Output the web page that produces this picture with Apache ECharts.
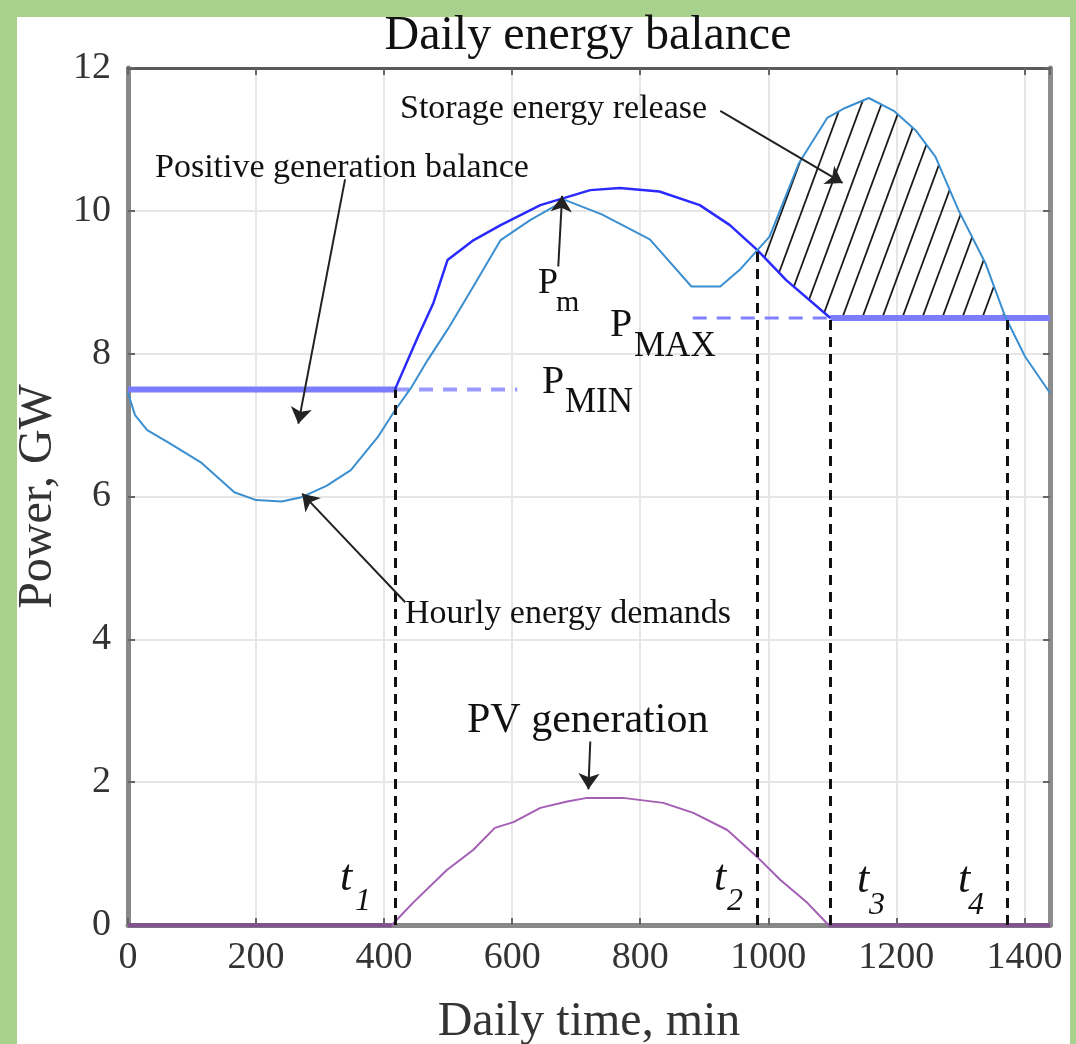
<!DOCTYPE html>
<html><head><meta charset="utf-8">
<script src="https://cdn.jsdelivr.net/npm/echarts@6/dist/echarts.min.js"></script>
<style>
html,body{margin:0;padding:0;width:1076px;height:1044px;background:#a9d18e;overflow:hidden}
#panel{position:absolute;left:17px;top:17px;width:1053px;height:1027px;background:#fff}
#chart{position:absolute;left:0;top:0;width:1076px;height:1044px}
</style></head><body><div id="panel"></div><div id="chart"></div>
<script>
// ---- data ----
const demandTime  = [0, 11, 30, 64, 115, 166, 200, 240, 271, 310, 348, 390, 415, 442, 468, 500, 540, 582, 628, 683, 740, 815, 880, 925, 955, 983, 1002, 1048, 1092, 1120, 1157, 1196, 1230, 1261, 1297, 1339, 1370, 1401, 1440];
const demandPower = [7.45, 7.14, 6.93, 6.75, 6.47, 6.06, 5.95, 5.93, 5.99, 6.15, 6.37, 6.83, 7.18, 7.52, 7.91, 8.35, 8.95, 9.59, 9.87, 10.15, 9.95, 9.6, 8.94, 8.94, 9.17, 9.45, 9.64, 10.67, 11.3, 11.44, 11.58, 11.4, 11.13, 10.76, 10.01, 9.27, 8.52, 7.96, 7.45];
const generationTime  = [417, 453, 477, 499, 540, 582, 644, 722, 768, 830, 893, 940, 983, 1028, 1097];
const generationPower = [7.5, 8.24, 8.71, 9.31, 9.59, 9.8, 10.08, 10.29, 10.32, 10.27, 10.08, 9.8, 9.45, 9.03, 8.5];
const pvTime  = [0, 412, 445, 498, 539, 573, 602, 644, 686, 717, 773, 836, 883, 936, 983, 1019, 1061, 1094, 1440];
const pvPower = [0, 0, 0.31, 0.77, 1.05, 1.36, 1.44, 1.64, 1.73, 1.78, 1.78, 1.71, 1.57, 1.33, 0.95, 0.63, 0.31, 0, 0];
const pMinLevel = 7.5;
const pMaxLevel = 8.5;
const pMinSolidEnd = 417, pMinDashEnd = 608;
const pMaxDashStart = 882, pMaxSolidStart = 1097;
const markTimes = [417, 983, 1097, 1373];
const markTops  = [7.5, 9.45, 8.5, 8.5];
const markNames = ['1', '2', '3', '4'];
const hatchStart = 983, hatchEnd = 1373;
// annotation arrows: [fromTime, fromPower, toTime, toPower]
const arrowStorage  = [925, 11.40, 1116, 10.39];
const arrowPositive = [339, 10.44, 266, 7.02];
const arrowHourly   = [433, 4.52, 272, 6.04];
const arrowPm       = [672, 9.22, 678, 10.21];
const arrowPV       = [722, 2.57, 719, 1.90];
const xMin = 0, xMax = 1440, xStep = 200;
const yMin = 0, yMax = 12, yStep = 2;

// ---- helpers ----
const pairs = (xs, ys) => xs.map((x, i) => [x, ys[i]]);
function interp(xs, ys, x) {
  for (let i = 0; i < xs.length - 1; i++) {
    if (x >= xs[i] && x <= xs[i + 1]) {
      const t = (x - xs[i]) / (xs[i + 1] - xs[i]);
      return ys[i] + t * (ys[i + 1] - ys[i]);
    }
  }
  return ys[ys.length - 1];
}
const lowerBound = x => x <= pMaxSolidStart ? Math.max(interp(generationTime, generationPower, x), pMaxLevel) : pMaxLevel;

// hatch pattern tile
const tile = document.createElement('canvas');
tile.width = 20; tile.height = 54;
const tc = tile.getContext('2d');
tc.strokeStyle = '#1a1a1a'; tc.lineWidth = 1.8;
for (const off of [-20, 0, 20]) { tc.beginPath(); tc.moveTo(off, 54); tc.lineTo(off + 20, 0); tc.stroke(); }

const SERIF = "'Liberation Serif','DejaVu Serif',serif";
const chart = echarts.init(document.getElementById('chart'), null, {renderer: 'canvas'});

const arrowList = [arrowStorage, arrowPositive, arrowHourly, arrowPm, arrowPV];

function txt(x, y, text, size, opts) {
  opts = opts || {};
  return {type: 'text', z: 100, style: Object.assign({x: x, y: y, text: text, font: (opts.italic ? 'italic ' : '') + size + 'px ' + SERIF, fill: opts.fill || '#111', textAlign: opts.align || 'left', textVerticalAlign: 'middle'})};
}

const option = {
  animation: false,
  backgroundColor: 'transparent',
  grid: {left: 128, right: 26, top: 68, bottom: 119, show: false, containLabel: false, outerBoundsMode: 'none'},
  xAxis: [{
    type: 'value', min: xMin, max: xMax, interval: xStep, position: 'bottom',
    axisLine: {show: true, onZero: false, lineStyle: {color: '#888', width: 5}},
    axisTick: {show: true, inside: true, length: 7, lineStyle: {color: '#666', width: 2}},
    axisLabel: {fontFamily: SERIF, fontSize: 38, color: '#333', margin: 14, showMaxLabel: false,
      formatter: v => (v % xStep === 0 ? String(v) : '')},
    splitLine: {show: true, lineStyle: {color: '#e6e6e6', width: 2}},
    name: 'Daily time, min', nameLocation: 'middle', nameGap: 73,
    nameTextStyle: {fontFamily: SERIF, fontSize: 48, color: '#333'}
  }, {
    type: 'value', min: xMin, max: xMax, interval: xStep, position: 'top',
    axisLine: {show: true, onZero: false, lineStyle: {color: '#5a5a5a', width: 3}},
    axisTick: {show: true, inside: true, length: 7, lineStyle: {color: '#666', width: 2}},
    axisLabel: {show: false}, splitLine: {show: false}
  }],
  yAxis: [{
    type: 'value', min: yMin, max: yMax, interval: yStep, position: 'left',
    axisLine: {show: true, onZero: false, lineStyle: {color: '#888', width: 5}},
    axisTick: {show: true, inside: true, length: 7, lineStyle: {color: '#666', width: 2}},
    axisLabel: {fontFamily: SERIF, fontSize: 38, color: '#333', margin: 17, padding: [0, 0, 18, 0]},
    splitLine: {show: true, lineStyle: {color: '#e6e6e6', width: 2}},
    name: 'Power, GW', nameLocation: 'middle', nameGap: 44,
    nameTextStyle: {fontFamily: SERIF, fontSize: 48, color: '#333'}
  }, {
    type: 'value', min: yMin, max: yMax, interval: yStep, position: 'right',
    axisLine: {show: true, onZero: false, lineStyle: {color: '#8c8c8c', width: 5}},
    axisTick: {show: true, inside: true, length: 7, lineStyle: {color: '#666', width: 2}},
    axisLabel: {show: false}, splitLine: {show: false}
  }],
  series: [
    { // hatched storage energy release region
      type: 'custom', name: 'hatch', z: 2, silent: true,
      data: [[hatchStart, hatchEnd]],
      renderItem: function (params, api) {
        const xs = [hatchStart];
        demandTime.forEach(t => { if (t > hatchStart && t < hatchEnd) xs.push(t); });
        generationTime.forEach(t => { if (t > hatchStart && t < hatchEnd && xs.indexOf(t) < 0) xs.push(t); });
        xs.push(hatchEnd);
        xs.sort((a, b) => a - b);
        const upper = xs.map(x => api.coord([x, interp(demandTime, demandPower, x)]));
        const lower = xs.slice().reverse().map(x => api.coord([x, lowerBound(x)]));
        return {type: 'polygon', shape: {points: upper.concat(lower)},
          style: {fill: {image: tile, repeat: 'repeat'}, stroke: null}};
      }
    },
    { // P_MIN solid thick
      type: 'line', z: 3, symbol: 'none', silent: true,
      data: [[xMin, pMinLevel], [pMinSolidEnd, pMinLevel]],
      lineStyle: {color: '#7c7cff', width: 6}
    },
    { // P_MIN dashed extension
      type: 'line', z: 3, symbol: 'none', silent: true,
      data: [[pMinSolidEnd, pMinLevel], [pMinDashEnd, pMinLevel]],
      lineStyle: {color: '#9a9aff', width: 4, type: [14, 10]}
    },
    { // P_MAX dashed extension
      type: 'line', z: 3, symbol: 'none', silent: true,
      data: [[pMaxDashStart, pMaxLevel], [pMaxSolidStart, pMaxLevel]],
      lineStyle: {color: '#8080ff', width: 3, type: [14, 10]}
    },
    { // P_MAX solid thick
      type: 'line', z: 3, symbol: 'none', silent: true,
      data: [[pMaxSolidStart, pMaxLevel], [xMax, pMaxLevel]],
      lineStyle: {color: '#7c7cff', width: 6}
    },
    { // generation curve
      type: 'line', name: 'Generation', z: 4, symbol: 'none', silent: true,
      data: pairs(generationTime, generationPower),
      lineStyle: {color: '#2a2aff', width: 2.5}
    },
    { // hourly demand
      type: 'line', name: 'Hourly energy demands', z: 5, symbol: 'none', silent: true,
      data: pairs(demandTime, demandPower),
      lineStyle: {color: '#3b8fd0', width: 2}
    },
    { // PV generation
      type: 'line', name: 'PV generation', z: 5, symbol: 'none', silent: true,
      data: pairs(pvTime, pvPower),
      lineStyle: {color: '#a45eb3', width: 2}
    },
    { // thick zero segments of PV
      type: 'lines', coordinateSystem: 'cartesian2d', z: 6, silent: true,
      data: [{coords: [[pvTime[0], 0], [pvTime[1], 0]]}, {coords: [[pvTime[pvTime.length - 2], 0], [pvTime[pvTime.length - 1], 0]]}],
      lineStyle: {color: '#82548c', width: 5, opacity: 1}
    },
    { // t marks
      type: 'lines', coordinateSystem: 'cartesian2d', z: 7, silent: true,
      data: markTimes.map((t, i) => ({coords: [[t, 0], [t, markTops[i]]]})),
      lineStyle: {color: '#111', width: 3, type: [10, 7], opacity: 1}
    },
    { // annotation arrows
      type: 'lines', coordinateSystem: 'cartesian2d', z: 8, silent: true,
      symbol: ['none', 'arrow'], symbolSize: 16,
      data: arrowList.map(a => ({coords: [[a[0], a[1]], [a[2], a[3]]]})),
      lineStyle: {color: '#222', width: 2, opacity: 1, curveness: 0}
    }
  ],
  graphic: [
    txt(588, 36, 'Daily energy balance', 48, {align: 'center'}),
    txt(400, 109, 'Storage energy release', 34),
    txt(155, 168, 'Positive generation balance', 34),
    txt(405, 614, 'Hourly energy demands', 34),
    txt(467, 721, 'PV generation', 42),
    txt(538, 284, 'P', 36), txt(556, 303, 'm', 30),
    txt(610, 325, 'P', 40), txt(634, 347, 'MAX', 35),
    txt(542, 382, 'P', 40), txt(565, 403, 'MIN', 35),
    txt(340, 878, 't', 44, {italic: true}), txt(355, 902, markNames[0], 32, {italic: true}),
    txt(714, 878, 't', 44, {italic: true}), txt(727, 902, markNames[1], 32, {italic: true}),
    txt(857, 880, 't', 44, {italic: true}), txt(869, 906, markNames[2], 32, {italic: true}),
    txt(958, 880, 't', 44, {italic: true}), txt(968, 906, markNames[3], 32, {italic: true})
  ]
};
chart.setOption(option);
</script></body></html>
